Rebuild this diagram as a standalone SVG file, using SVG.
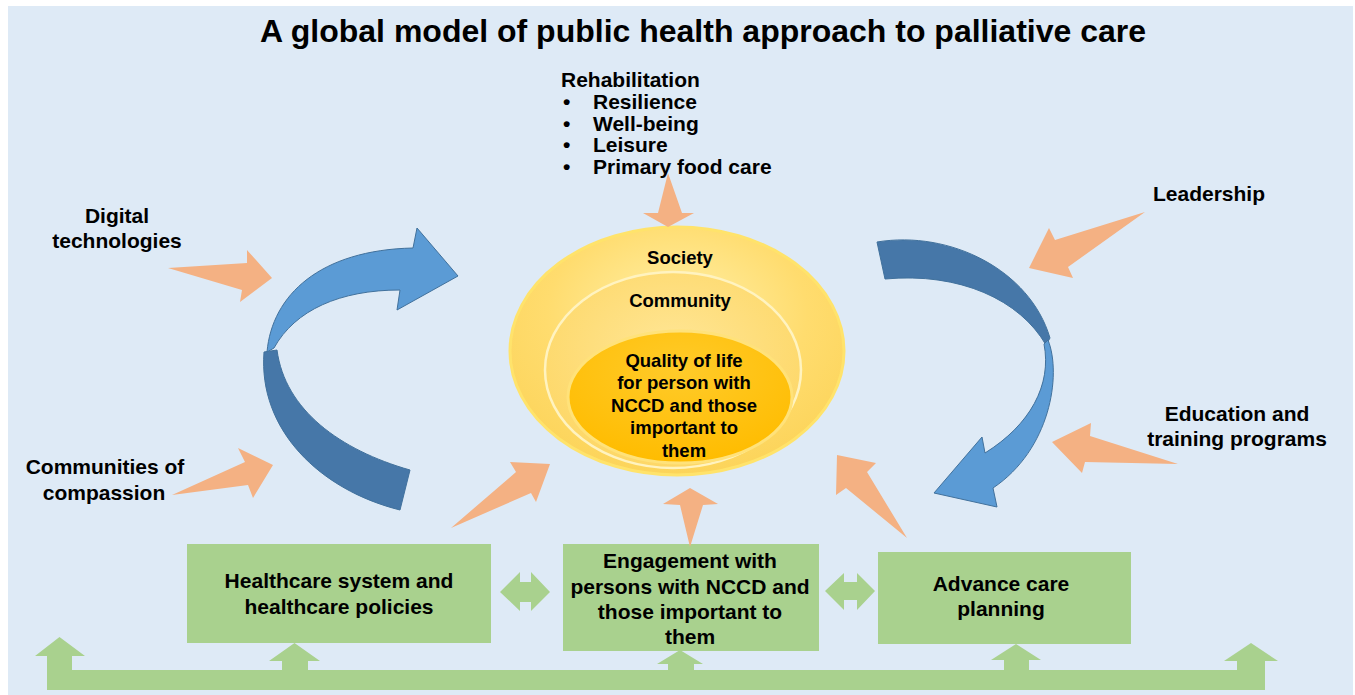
<svg xmlns="http://www.w3.org/2000/svg" width="1355" height="695" viewBox="0 0 1355 695">
<defs>
<style>
text{font-family:"Liberation Sans",Arial,sans-serif;font-weight:bold;fill:#000;}
.t21{font-size:21px;}
.t18{font-size:18.5px;}
.mid{text-anchor:middle;}
.org{fill:#f4b183;}
.grn{fill:#a9d18e;}
.blL{fill:#5b9bd5;stroke:#41719c;stroke-width:1;}
.blD{fill:#4677a8;stroke:#41719c;stroke-width:1;}
</style>
<radialGradient id="gOuter" cx="0.5" cy="0.35" r="0.65">
<stop offset="0" stop-color="#fff0a8"/>
<stop offset="0.6" stop-color="#ffdc6e"/>
<stop offset="1" stop-color="#fcd45a"/>
</radialGradient>
<radialGradient id="gMid" cx="0.5" cy="0.4" r="0.65">
<stop offset="0" stop-color="#ffe696"/>
<stop offset="1" stop-color="#fdd663"/>
</radialGradient>
<radialGradient id="gIn" cx="0.5" cy="0.3" r="0.7">
<stop offset="0" stop-color="#ffcb2a"/>
<stop offset="1" stop-color="#ffbc00"/>
</radialGradient>
</defs>
<rect x="8" y="6" width="1345" height="689" fill="#deeaf6"/>
<g id="title"><text x="703" y="42" class="mid" style="font-size:32px">A global model of public health approach to palliative care</text></g>
<g id="rehabilitation">
<text x="561" y="87" class="t21">Rehabilitation</text>
<text x="563" y="109" class="t21">•</text><text x="593" y="109" class="t21">Resilience</text>
<text x="563" y="131" class="t21">•</text><text x="593" y="131" class="t21">Well-being</text>
<text x="563" y="152" class="t21">•</text><text x="593" y="152" class="t21">Leisure</text>
<text x="563" y="174" class="t21">•</text><text x="593" y="174" class="t21">Primary food care</text>
</g>
<g id="society">
<ellipse cx="677" cy="351" rx="167" ry="124" fill="url(#gOuter)" stroke="#ffe36b" stroke-width="3"/>
<text x="680" y="263.5" class="t18 mid">Society</text>
</g>
<g id="community">
<ellipse cx="673" cy="370" rx="128" ry="98" fill="url(#gMid)" stroke="#fff3c0" stroke-width="2.5"/>
<text x="680" y="306.5" class="t18 mid">Community</text>
</g>
<g id="quality">
<ellipse cx="680" cy="397" rx="112" ry="66" fill="url(#gIn)" stroke="#ffe27a" stroke-width="3"/>
<text class="t18 mid"><tspan x="684" y="366.5">Quality of life</tspan><tspan x="684" y="389">for person with</tspan><tspan x="684" y="411.5">NCCD and those</tspan><tspan x="684" y="434">important to</tspan><tspan x="684" y="456.5">them</tspan></text>
</g>
<g id="digital"><text class="t21 mid"><tspan x="117" y="223">Digital</tspan><tspan x="117" y="248">technologies</tspan></text></g>
<g id="communities"><text class="t21 mid"><tspan x="105" y="474">Communities of</tspan><tspan x="104" y="500">compassion</tspan></text></g>
<g id="leadership"><text x="1209" y="201" class="t21 mid">Leadership</text></g>
<g id="education"><text class="t21 mid"><tspan x="1237" y="421">Education and</tspan><tspan x="1237" y="446">training programs</tspan></text></g>
<g id="healthcare">
<rect x="187" y="544" width="304" height="99" class="grn"/>
<text class="t21 mid"><tspan x="339" y="588">Healthcare system and</tspan><tspan x="339" y="614">healthcare policies</tspan></text>
</g>
<g id="engagement">
<rect x="563" y="544" width="256" height="107" class="grn"/>
<text class="t21 mid"><tspan x="690" y="568">Engagement with</tspan><tspan x="690" y="594">persons with NCCD and</tspan><tspan x="690" y="619">those important to</tspan><tspan x="690" y="644">them</tspan></text>
</g>
<g id="advance">
<rect x="878" y="552" width="253" height="92" class="grn"/>
<text class="t21 mid"><tspan x="1001" y="591">Advance care</tspan><tspan x="1001" y="616">planning</tspan></text>
</g>
<g id="connectors">
<path class="blD" d="M264 352 C258 430 320 490 400 510 L410 470 C340 450 285 410 277 350 Z"/>
<path class="blL" d="M267 352 C272 295 320 250 413 248 L417 228 L458 276 L397 310 L400 290 C340 290 295 310 274 348 Z"/>
<path class="blD" d="M877 242 C950 230 1030 270 1050 338 L1046 345 C1020 300 960 272 885 279 Z"/>
<path class="blL" d="M1048 340 C1062 375 1050 450 993 488 L997 507 L934 493 L982 437 L985 453 C1030 425 1052 385 1044 344 Z"/>
<polygon class="org" points="168,268 247,263 247,250 272,278 240,302 242,290"/>
<polygon class="org" points="172,495 245,462 238,448 273,465 253,498 248,485"/>
<polygon class="org" points="1145,212 1055,240 1049,228 1029,268 1073,278 1068,267"/>
<polygon class="org" points="1178,464 1085,462 1082,473 1052,442 1091,423 1090,436"/>
<polygon class="org" points="668,173 682,213 694,213 668,227 643,213 658,213"/>
<polygon class="org" points="451,528 516,472 510,462 550,464 536,502 531,493"/>
<polygon class="org" points="690,547 703,505 718,504 690,488 663,504 680,505"/>
<polygon class="org" points="907,538 867,472 876,463 837,455 836,495 846,488"/>
<polygon class="grn" points="500,592 520,572 520,582 531,582 531,572 550,592 531,611 531,602 520,602 520,611"/>
<polygon class="grn" points="825,591 844,573 844,582 857,582 857,573 875,591 857,610 857,600 844,600 844,610"/>
<path class="grn" d="M47 690 L47 656 L35 656 L59.5 637 L85 656 L72 656 L72 670 L282 670 L282 661 L269 661 L294.5 643 L320 661 L308 661 L308 670 L668 670 L668 664 L657 664 L680 650 L703 664 L694 664 L694 670 L1004 670 L1004 660 L991 660 L1016 644 L1041 660 L1029 660 L1029 670 L1237 670 L1237 661 L1224 661 L1251 643 L1278 661 L1265 661 L1265 690 Z"/>
</g>
</svg>
